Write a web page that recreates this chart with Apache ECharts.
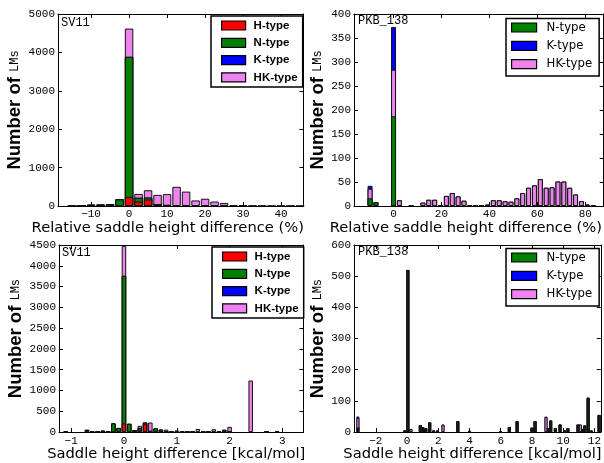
<!DOCTYPE html>
<html><head><meta charset="utf-8">
<script src="https://cdn.jsdelivr.net/npm/echarts@6/dist/echarts.min.js"></script>
<style>html,body{margin:0;padding:0;background:#fff}#c{width:604px;height:463px}</style>
</head><body><div id="c"></div>
<script>
// ---------- Panel A: SV11, relative saddle height difference (%) ----------
const svRelBins = [-17.5,-15,-12.5,-10,-7.5,-5,-2.5,0,2.5,5,7.5,10,12.5,15,17.5,20,22.5,25,27.5,30,32.5,35,37.5,40,42.5,45];
const svRelH  = [0,0,0,0,0,0,0,235,115,170,0,0,0,0,0,0,0,0,0,0,0,0,0,0,0,0];
const svRelN  = [0,5,15,35,40,50,175,3650,100,50,50,30,0,0,0,0,0,0,0,0,0,0,0,0,0,0];
const svRelK  = [0,0,0,0,0,0,0,0,0,0,0,0,0,0,0,0,0,0,0,0,0,0,0,0,0,0];
const svRelHK = [0,0,0,0,0,0,0,735,100,190,240,280,500,375,145,190,115,80,25,25,10,8,5,5,8,5];

// ---------- Panel B: PKB_138, relative saddle height difference (%) ----------
const pkRelBins = [-9.8,-7.35,0,2.45,7.35,12.25,14.7,17.15,19.6,22.05,24.5,26.95,29.4,31.85,34.3,36.75,39.2,41.65,44.1,46.55,49,51.45,53.9,56.35,58.8,61.25,63.7,66.15,68.6,71.05,73.5,75.95,78.4,80.85,83.3];
const pkRelN  = [16,8,187,0,1,0,0,0,2,0,0,0,0,0,0,0,0,0,0,0,0,0,0,0,0,0,0,0,0,0,0,0,0,0,0];
const pkRelHK = [20,0,97,12,0,7,13,13,0,21,27,20,11,1,1,1,3,12,12,10,9,16,27,38,43,56,38,39,51,51,38,24,10,3,1];
const pkRelK  = [6,0,89,0,0,0,0,0,0,0,0,0,0,0,0,0,0,0,0,0,0,0,0,0,0,0,0,0,0,0,0,0,0,0,0];

// ---------- Panel C: SV11, saddle height difference (kcal/mol) ----------
const svAbsBins = [-1.1,-0.7,-0.6,-0.5,-0.4,-0.3,-0.2,-0.1,0,0.1,0.2,0.3,0.4,0.5,0.6,0.7,0.8,0.9,1.0,1.1,1.2,1.3,1.4,1.5,1.6,1.7,1.8,1.9,2.0,2.4,2.7,2.9];
const svAbsH  = [0,0,0,0,0,0,0,0,210,0,30,60,190,30,0,10,0,0,0,0,0,0,0,0,0,0,0,0,0,0,0,0];
const svAbsN  = [10,55,20,10,35,5,210,100,3550,200,20,40,40,0,90,50,10,10,0,5,5,10,0,10,10,0,10,55,15,0,8,15];
const svAbsK  = [0,0,0,0,0,0,0,0,0,0,0,0,0,0,0,0,0,0,0,0,0,0,0,0,0,0,0,0,0,0,0,0];
const svAbsHK = [0,0,0,0,0,0,0,0,720,0,0,50,0,200,0,0,50,0,40,0,0,0,75,0,0,70,0,0,110,1240,0,0];

// ---------- Panel D: PKB_138, saddle height difference (kcal/mol) ----------
const pkAbsBins = [-3.15,-0.15,0.05,0.25,0.85,1.0,1.1,1.2,1.45,1.7,1.95,2.3,3.25,4.0,6.0,6.55,7.05,8.0,8.2,8.9,9.05,9.2,9.5,9.8,10.1,10.3,10.95,11.1,11.25,11.38,11.6,11.8,12.3];
const pkAbsN  = [15,5,520,0,22,16,9,12,31,5,5,0,35,4,3,16,35,14,35,0,12,37,13,24,5,12,24,0,10,21,110,5,55];
const pkAbsHK = [30,0,0,10,0,0,0,0,0,0,0,24,0,0,0,0,0,0,0,49,0,0,0,0,0,0,0,24,0,0,0,0,0];
const pkAbsK  = [5,0,0,0,0,0,0,0,0,0,0,0,0,0,0,0,0,0,0,0,0,0,0,0,0,0,0,0,0,0,0,0,0];

// tick labels
const svRelTicks = [-10,0,10,20,30,40];
const pkRelTicks = [0,20,40,60,80];
const svAbsTicks = [-1,0,1,2,3];
const pkAbsTicks = [-2,0,2,4,6,8,10,12];

const COL = {'H-type':'#ff0000','N-type':'#008000','K-type':'#0000ff','HK-type':'#ee82ee'};

const chart = echarts.init(document.getElementById('c'), null, {renderer:'canvas'});

const fmt = v => (v < 0 ? '\u2212' + (-v) : String(v));
const tickFont = {fontFamily:'Liberation Mono', fontSize:11, color:'#000'};

const grids = [
  {left:58, top:14, width:245.5, height:192},
  {left:354, top:14, width:250, height:192},
  {left:59, top:245, width:244.5, height:191},
  {left:354, top:245, width:250, height:191}
];
const xr = [[-18.7,45.9,svRelTicks,'Relative saddle height difference (%)'],
            [-16.5,87.7,pkRelTicks,'Relative saddle height difference (%)'],
            [-1.23,3.40,svAbsTicks,'Saddle height difference [kcal/mol]'],
            [-3.40,12.41,pkAbsTicks,'Saddle height difference [kcal/mol]']];
const yr = [[5000,1000,32],[400,50,24],[4500,500,32],[600,100,24]];

const xAxis = [], yAxis = [];
grids.forEach((g,i)=>{
  const [mn,mx,tk,nm] = xr[i];
  xAxis.push({type:'value', gridIndex:i, min:mn, max:mx, position:'bottom',
    name:nm, nameLocation:'middle', nameGap:10,
    nameTextStyle:{fontFamily:'DejaVu Sans', fontSize:14.7, color:'#000', padding:[0, i<2 ? 26 : 10, 0, 0]},
    axisLine:{onZero:false, lineStyle:{color:'#000', width:1}},
    axisTick:{inside:true, length:4, lineStyle:{color:'#000'}, customValues:tk},
    axisLabel:Object.assign({customValues:tk, formatter:fmt, margin:3}, tickFont),
    splitLine:{show:false}});
});
grids.forEach((g,i)=>{
  const [mn,mx,tk] = xr[i];
  xAxis.push({type:'value', gridIndex:i, min:mn, max:mx, position:'top',
    axisLine:{onZero:false, lineStyle:{color:'#000', width:1}},
    axisTick:{inside:true, length:4, lineStyle:{color:'#000'}, customValues:tk},
    axisLabel:{show:false, customValues:tk}, splitLine:{show:false}});
});
grids.forEach((g,i)=>{
  const [mx,iv,gap] = yr[i];
  yAxis.push({type:'value', gridIndex:i, min:0, max:mx, interval:iv, position:'left',
    name:'{a|Number of }{b|LMs}', nameLocation:'middle', nameGap:gap,
    nameTextStyle:{rich:{a:{fontFamily:'Liberation Sans', fontWeight:'bold', fontSize:18.5, color:'#000'},
                         b:{fontFamily:'Liberation Mono', fontSize:12, color:'#000'}}},
    axisLine:{onZero:false, lineStyle:{color:'#000', width:1}},
    axisTick:{inside:true, length:4, lineStyle:{color:'#000'}},
    axisLabel:Object.assign({margin:3, formatter:v=>String(v)}, tickFont),
    splitLine:{show:false}});
});
grids.forEach((g,i)=>{
  const [mx,iv] = yr[i];
  yAxis.push({type:'value', gridIndex:i, min:0, max:mx, interval:iv, position:'right',
    axisLine:{onZero:false, lineStyle:{color:'#000', width:1}},
    axisTick:{inside:true, length:4, lineStyle:{color:'#000'}},
    axisLabel:{show:false}, splitLine:{show:false}});
});

// stacked histogram drawn as overlapped cumulative bars (top layer first)
const series = [];
function addPanel(i, bins, layers, bw, bwid){
  const cum = layers.map(()=>[]);
  bins.forEach((b,k)=>{
    let s = 0;
    layers.forEach((L,j)=>{ s += L.vals[k]; cum[j].push(s); });
  });
  for (let j = layers.length-1; j >= 0; j--){
    const data = [];
    bins.forEach((b,k)=>{ if (cum[j][k] > 0) data.push([b, cum[j][k]]); });
    const w = (typeof bwid === 'object') ? bwid[layers[j].name] : bwid;
    series.push({type:'bar', name:layers[j].name, xAxisIndex:i, yAxisIndex:i,
      barWidth:bw, barGap:'-100%', data:data, silent:true,
      itemStyle:{color:COL[layers[j].name], borderColor:'#111', borderWidth:w}});
  }
}
addPanel(0, svRelBins, [{name:'H-type',vals:svRelH},{name:'N-type',vals:svRelN},{name:'K-type',vals:svRelK},{name:'HK-type',vals:svRelHK}], 8.5, 1);
addPanel(1, pkRelBins, [{name:'N-type',vals:pkRelN},{name:'HK-type',vals:pkRelHK},{name:'K-type',vals:pkRelK}], 5, 1);
addPanel(2, svAbsBins, [{name:'H-type',vals:svAbsH},{name:'N-type',vals:svAbsN},{name:'K-type',vals:svAbsK},{name:'HK-type',vals:svAbsHK}], 4.5, 1);
addPanel(3, pkAbsBins, [{name:'N-type',vals:pkAbsN},{name:'HK-type',vals:pkAbsHK},{name:'K-type',vals:pkAbsK}], 3, {'N-type':1.4,'HK-type':0.9,'K-type':0.9});

const legBold = {orient:'vertical', icon:'rect', itemWidth:24, itemHeight:9, itemGap:4.3,
  padding:[3,5,3,10], borderColor:'#000', borderWidth:1.5, backgroundColor:'#fff', borderRadius:0,
  selectedMode:false, itemStyle:{borderColor:'#000', borderWidth:1.2},
  textStyle:{fontFamily:'Liberation Sans', fontWeight:'bold', fontSize:11.5, lineHeight:13, color:'#000', padding:[0,0,0,3]},
  data:['H-type','N-type','K-type','HK-type']};
const legReg = {orient:'vertical', icon:'rect', itemWidth:25, itemHeight:9, itemGap:4.3,
  padding:[2,7,5,5], borderColor:'#000', borderWidth:1.5, backgroundColor:'#fff', borderRadius:0,
  selectedMode:false, itemStyle:{borderColor:'#000', borderWidth:1.2},
  textStyle:{fontFamily:'DejaVu Sans', fontSize:11.7, lineHeight:14, color:'#000', padding:[0,0,0,5]},
  data:['N-type','K-type','HK-type']};

const legend = [
  Object.assign({}, legBold, {left:211, top:16}),
  Object.assign({}, legReg, {left:506, top:18.5}),
  Object.assign({}, legBold, {left:212, top:247}),
  Object.assign({}, legReg, {left:506, top:248.5})
];

const tag = (txt, x, y) => ({type:'text', left:x, top:y, silent:true,
  style:{text:txt, font:'12px "Liberation Mono"', fill:'#000'}});

chart.setOption({
  animation:false,
  backgroundColor:'#fff',
  grid:grids, xAxis:xAxis, yAxis:yAxis, series:series, legend:legend,
  graphic:[tag('SV11',61,17), tag('PKB_138',358,15), tag('SV11',62,247), tag('PKB_138',358,246)]
});
</script></body></html>
